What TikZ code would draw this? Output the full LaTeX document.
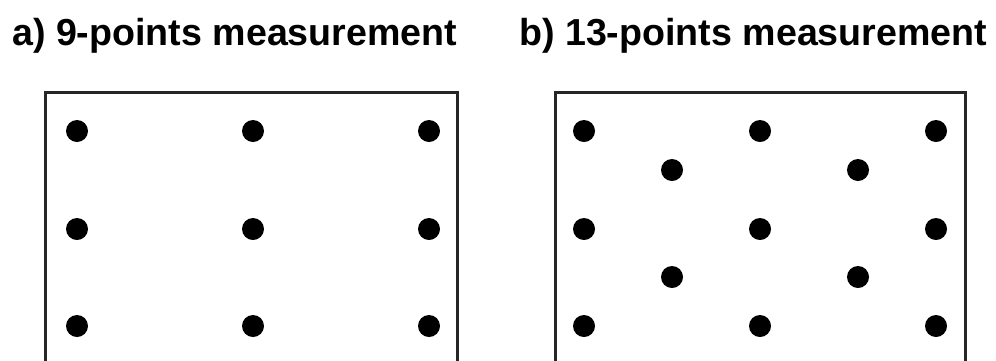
\documentclass[tikz,border=0pt]{standalone}
\usepackage{fontspec}
\setmainfont{Liberation Sans}
\begin{document}
\begin{tikzpicture}[x=1pt,y=-1pt,
  title/.style={anchor=base west,inner sep=0pt,font=\fontsize{37.6}{40}\selectfont\bfseries},
  frame/.style={line width=3pt,black!85},
  dot/.style={circle,fill=black,inner sep=0pt,minimum size=22pt}]
\useasboundingbox (0,0) rectangle (996,360);
\node[title] (ta) at (12,45) {a) 9-points measurement};
\node[title] (tb) at (519,45) {b) 13-points measurement};
% frames
\draw[frame] (45.5,362) -- (45.5,92) -- (457,92) -- (457,362);
\draw[frame] (555,362) -- (555,92) -- (965.5,92) -- (965.5,362);
% a dots
\foreach \x/\i in {77/1,253/2,429/3}
  \foreach \y/\j in {131/1,229/2,326/3}
    \node[dot] (a\i\j) at (\x,\y) {};
% b dots
\foreach \x/\i in {584/1,760/2,936/3}
  \foreach \y/\j in {131/1,229/2,326/3}
    \node[dot] (b\i\j) at (\x,\y) {};
\foreach \x/\i in {672/1,858/2}
  \foreach \y/\j in {170/1,277/2}
    \node[dot] (c\i\j) at (\x,\y) {};
\end{tikzpicture}
\end{document}
